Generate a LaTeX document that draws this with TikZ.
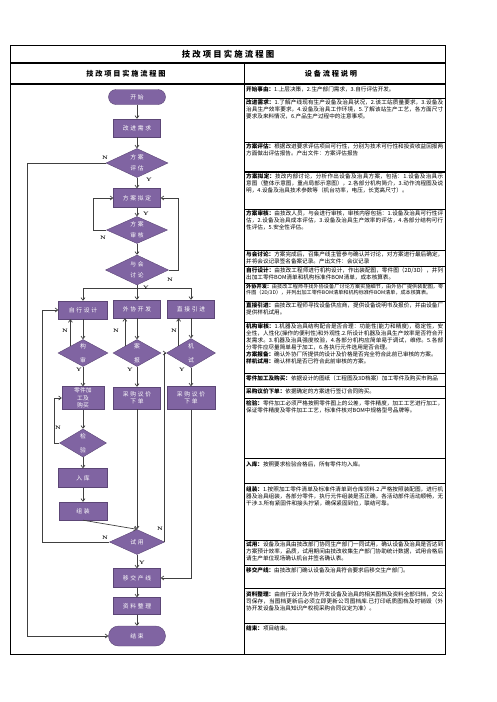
\documentclass[tikz,border=0pt]{standalone}
\usepackage{fontspec}
\newfontfamily\cjk{Noto Sans CJK SC}
\newfontfamily\flowfont{Noto Sans CJK SC}[LetterSpace=30]
\newfontfamily\headfont{Noto Sans CJK SC}[LetterSpace=25]
\XeTeXlinebreaklocale "zh"
\XeTeXlinebreakskip = 0pt plus 1pt
\usetikzlibrary{arrows.meta,positioning,shapes.geometric}

\definecolor{flowfill}{RGB}{128,100,162}
\definecolor{flowline}{RGB}{92,70,118}
\definecolor{conn}{RGB}{64,64,64}

\begin{document}
\begin{tikzpicture}[
  x=1pt, y=-1pt,
  font=\cjk,
  box/.style={draw=flowline, fill=flowfill, text=white, align=center,
              font=\flowfont\fontsize{5.8}{7.5}\selectfont,
              inner sep=1pt, minimum width=47pt, minimum height=18pt},
  term/.style={box, rounded corners=7.5pt, minimum width=57pt, minimum height=15pt},
  dec/.style={diamond, aspect=2, draw=flowline, fill=flowfill, text=white,
              align=center, inner sep=0pt, font=\flowfont\fontsize{5.8}{11}\selectfont},
  sdec/.style={dec, font=\flowfont\fontsize{5.8}{14}\selectfont},
  arr/.style={-{Straight Barb[length=2.6pt,width=4pt]}, draw=conn, line width=0.7pt},
  yn/.style={font=\fontsize{5}{5}\selectfont\bfseries, inner sep=0pt},
  desc/.style={anchor=north west, text width=197pt, inner sep=0pt, align=justify,
               font=\cjk\fontsize{5.6}{7}\selectfont},
  grid/.style={draw=black, line width=0.8pt},
  head/.style={font=\headfont\bfseries\fontsize{7.2}{8}\selectfont, inner sep=0pt}
]
\useasboundingbox (0,0) rectangle (496,702);

% ================= Table frame =================
\draw[grid] (10,45) rectangle (445,654);
\draw[grid, line width=1.6pt] (10,63) -- (445,63) (10,84) -- (445,84);
\draw[grid] (244,63) -- (244,654);
\draw[grid] (244,98) -- (445,98) (244,142) -- (445,142)
            (244,209) -- (445,209) (244,250) -- (445,250) (244,266) -- (445,266)
            (244,283) -- (445,283) (244,301) -- (445,301) (244,322) -- (445,322)
            (244,373) -- (445,373) (244,386) -- (445,386) (244,398) -- (445,398)
            (244,458) -- (445,458) (244,483) -- (445,483) (244,540) -- (445,540)
            (244,565) -- (445,565) (244,588) -- (445,588) (244,623) -- (445,623);
\draw[grid, line width=1.3pt] (244,172) -- (445,172);

\node[head, font=\headfont\bfseries\fontsize{8.4}{9}\selectfont] (title) at (228,54) {技改项目实施流程图};
\node[head] (headL) at (126,74) {技改项目实施流程图};
\node[head] (headR) at (331,74) {设备流程说明};

% ================= Flow: main column =================
\node[term] (start) at (137,97) {开始};
\node[box] (need) at (137,128) {改进需求};
\node[dec, minimum width=62pt, minimum height=29pt] (eval) at (137,163) {方案\\评估};
\node[box, minimum height=19pt] (plan) at (137,198) {方案拟定};
\node[dec, minimum width=61pt, minimum height=27pt] (audit) at (137,230) {方案\\审核};
\node[dec, minimum width=63pt, minimum height=30pt] (meet) at (137,270) {与会\\讨论};

\draw[arr] (start) -- (need);
\draw[arr] (need) -- (eval);
\draw[arr] (eval) -- (plan);
\draw[arr] (plan) -- (audit);
\draw[arr] (audit) -- (meet);
\draw[arr] (audit.west) -- ++(-13,0) |- (plan.west);
\draw[arr] (meet.east) -- ++(10,0) |- (plan.east);

\node[yn] (nEval) at (105,158) {N};
\node[yn] (yEval) at (149,180) {Y};
\node[yn] (yPlan) at (146,214) {Y};
\node[yn] (nAudit) at (103,238) {N};
\node[yn] (nMeet) at (170,280) {N};

% ================= Flow: three branches =================
\node[box, minimum width=49pt] (self) at (83,310) {自行设计};
\node[box] (outs) at (137,309) {外协开发};
\node[box] (intro) at (191,309) {直接引进};

\coordinate (split) at (137,288);
\draw[draw=conn, line width=0.7pt] (meet.south) -- (split);
\draw[arr] (split) -| (self.north);
\draw[arr] (split) -- (outs.north);
\draw[arr] (split) -| (intro.north);
\node[yn] (ySplit) at (146,288) {Y};

\node[sdec, minimum width=50pt, minimum height=27pt] (rev1) at (83,353) {构\\审};
\node[sdec, minimum width=48pt, minimum height=27pt] (rev2) at (137,353) {案\\报};
\node[sdec, minimum width=49pt, minimum height=29pt] (rev3) at (191,353) {机\\试};

\draw[arr] (self) -- (rev1);
\draw[arr] (outs) -- (rev2);
\draw[arr] (intro) -- (rev3);
\draw[arr] (rev1.north west) -- (rev1.north west |- self.south);
\draw[arr] (rev2.north west) -- (rev2.north west |- outs.south);
\draw[arr] (rev3.north west) -- (rev3.north west |- intro.south);

\node[yn] (nRev1) at (65,331) {N};
\node[yn] (nRev2) at (116,331) {N};
\node[yn] (nRev3) at (174,331) {N};

\node[box, minimum width=42pt, minimum height=23pt, text width=19pt] (make) at (83,398) {零件加工及购买};
\node[box, minimum height=22pt] (buy2) at (137,398) {采购议价\\下单};
\node[box, minimum width=48pt, minimum height=23pt] (buy3) at (191,398) {采购议价\\下单};

\draw[arr] (rev1) -- (make);
\draw[arr] (rev2) -- (buy2);
\draw[arr] (rev3) -- (buy3);
\node[yn] (yRev1) at (79,370) {Y};
\node[yn] (yRev2) at (130,370) {Y};
\node[yn] (yRev3) at (182,370) {Y};

% ================= Flow: own design path =================
\node[sdec, minimum width=47pt, minimum height=28pt] (insp) at (83,443) {检\\验};
\node[box, minimum width=49pt, minimum height=19pt] (stock) at (83,478) {入库};
\node[box, minimum width=48pt] (asm) at (83,511) {组装};

\draw[arr] (make) -- (insp);
\draw[arr] (insp.west) -- ++(-5,0) |- (make.west);
\node[yn] (nInsp) at (58,428) {N};
\draw[arr] (insp) -- (stock);
\draw[arr] (stock) -- (asm);

% ================= Flow: trial and close =================
\node[dec, minimum width=55pt, minimum height=25pt] (trial) at (137,542) {试用};
\node[box, minimum height=19pt] (hand) at (137,578) {移交产线};
\node[box, minimum height=17pt] (docs) at (137,606) {资料整理};
\node[term, minimum height=20pt, rounded corners=10pt] (end) at (137,636) {结束};

\draw[arr] (asm.south) -- (trial.north);
\draw[arr] (buy2) -- (trial);
\draw[arr] (buy3.south) |- (hand.east);
\draw[arr] (trial.east) |- (rev3.west);
\draw[arr] (trial.west) -- ++(-66.5,0) |- (self.west);
\draw[arr] (trial) -- (hand);
\draw[arr] (hand) -- (docs);
\draw[arr] (docs) -- (end);
\draw[arr] (eval.west) -- ++(-78,0) |- (end.west);

\node[yn] (nTrialR) at (160,529) {N};
\node[yn] (nTrialL) at (105,538) {N};
\node[yn] (yTrial) at (142,563) {Y};

% ================= Description column =================
\node[desc] (d01) at (246,86.5) {\textbf{开始事由：}1.上层决策，2.生产部门需求，3.自行评估开发。};
\node[desc] (d02) at (246,99.5) {\textbf{改进需求：}1.了解产线现有生产设备及治具状况，2.该工站质量要求，3.设备及治具生产效率要求，4.设备及治具工作环境，5.了解该站生产工艺，各方面尺寸要求及来料情况，6.产品生产过程中的注意事项。};
\node[desc] (d03) at (246,143.5) {\textbf{方案评估：}根据改进要求评估项目可行性，分别为技术可行性和投资收益回报两方面做出评估报告。产出文件：方案评估报告};
\node[desc] (d04) at (246,173.5) {\textbf{方案拟定：}技改内部讨论，分析作出设备及治具方案，包括：1.设备及治具示意图（整体示意图，重点局部示意图），2.各部分机构简介，3.动作流程图及说明，4.设备及治具技术参数等（机台功率，电压，长宽高尺寸）。};
\node[desc] (d05) at (246,210.5) {\textbf{方案审核：}由技改人员，与会进行审核，审核内容包括：1.设备及治具可行性评估，2.设备及治具成本评估，3.设备及治具生产效率的评估，4.各部分结构可行性评估，5.安全性评估。};
\node[desc] (d06) at (246,251.5) {\textbf{与会讨论：}方案完成后，召集产线主管参与确认并讨论，对方案进行最后确定，并将会议记录签名备案记录。产出文件：会议记录};
\node[desc] (d07) at (246,267.5) {\textbf{自行设计：}由技改工程师进行机构设计，作出装配图，零件图（2D/3D），并列出加工零件BOM清单和机构标准件BOM清单，成本核算表。};
\node[desc, font=\cjk\fontsize{5.1}{5.6}\selectfont] (d08) at (246,283.8) {\textbf{外协开发：}由技改工程师寻找外协设备厂讨论方案实施细节，由外协厂提供装配图，零件图（2D/3D），并列出加工零件BOM清单和机构标准件BOM清单，成本核算表。};
\node[desc] (d09) at (246,302.5) {\textbf{直接引进：}由技改工程师寻找设备供应商，提供设备说明书及报价，并由设备厂提供样机试用。};
\node[desc] (d10) at (246,323.5) {\textbf{机构审核：}1.机器及治具结构配合是否合理：功能性(能力和精度)，稳定性，安全性，人性化(操作的便利性)和外观性.2.所设计机器及治具生产效率是否符合开发需求。3.机器及治具强度校验，4.各部分机构应简单易于调试，维修。5.各部分零件应尽量简单易于加工，6.各执行元件选用是否合理。\\
  \textbf{方案报备：}确认外协厂所提供的设计及价格是否完全符合此前已审核的方案。\\
  \textbf{样机试用：}确认样机是否已符合此前审核的方案。};
\node[desc] (d11) at (246,376) {\textbf{零件加工及购买：}依据设计的图纸（工程图及3D档案）加工零件及购买市购品};
\node[desc] (d12) at (246,388.5) {\textbf{采购议价下单：}依据确定的方案进行签订合同购买。};
\node[desc] (d13) at (246,400.5) {\textbf{检验：}零件加工必须严格按照零件图上的公差，零件精度，加工工艺进行加工，保证零件精度及零件加工工艺，标准件核对BOM中规格型号品牌等。};
\node[desc] (d14) at (246,461) {\textbf{入库：}按照要求检验合格后，所有零件均入库。};
\node[desc] (d15) at (246,486) {\textbf{组装：}1.按照加工零件清单及标准件清单到仓库领料.2.严格按照装配图，进行机器及治具组装，各部分零件，执行元件组装是否正确，各活动部件活动顺畅，无干涉.3.所有紧固件和接头拧紧，确保紧固到位，联结可靠。};
\node[desc] (d16) at (246,541.5) {\textbf{试用：}设备及治具由技改部门协同生产部门一同试用，确认设备及治具是否达到方案预计效率，品质，试用期间由技改收集生产部门协助统计数据，试用合格后请生产单位现场确认机台并签名确认表。};
\node[desc] (d17) at (246,567) {\textbf{移交产线：}由技改部门确认设备及治具符合要求后移交生产部门。};
\node[desc] (d18) at (246,591) {\textbf{资料整理：}由自行设计及外协开发设备及治具的相关图档及资料全部归档，交公司保存，当图档更新后必须立即更新公司图档库.已打印纸质图档及时销毁（外协开发设备及治具知识产权视采购合同议定为准）。};
\node[desc] (d19) at (246,625.5) {\textbf{结束：}项目结束。};

\end{tikzpicture}
\end{document}
